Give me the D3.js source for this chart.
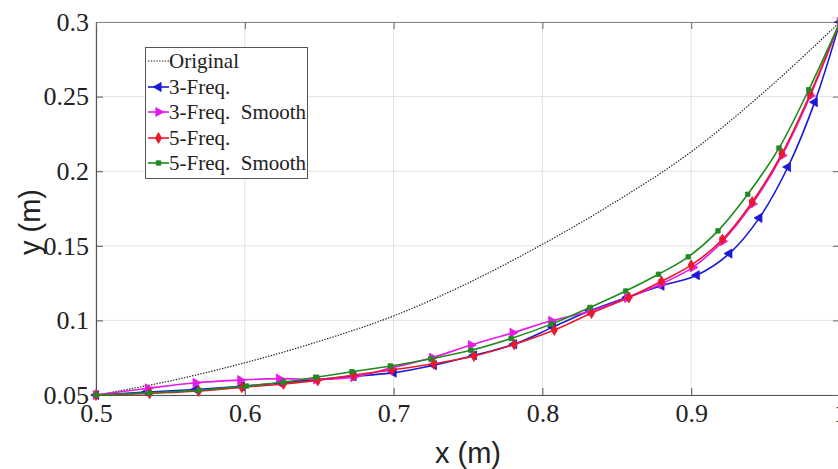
<!DOCTYPE html>
<html>
<head>
<meta charset="utf-8">
<script src="https://cdn.jsdelivr.net/npm/d3@7"></script>
<style>
  html, body { margin: 0; padding: 0; background: #fff; overflow: hidden; }
  svg { display: block; }
</style>
</head>
<body>
<svg id="chart" width="838" height="469"></svg>
<script>
// ---------- data ----------
const xTicks = [0.5, 0.6, 0.7, 0.8, 0.9, 1.0];
const xTickLabels = ["0.5", "0.6", "0.7", "0.8", "0.9", "1"];
const yTicks = [0.05, 0.1, 0.15, 0.2, 0.25, 0.3];
const yTickLabels = ["0.05", "0.1", "0.15", "0.2", "0.25", "0.3"];

const originalX = [0.5, 0.55, 0.6, 0.65, 0.7, 0.75, 0.8, 0.85, 0.9, 0.95, 1.0];
const originalY = [0.05, 0.0595, 0.0716, 0.086, 0.103, 0.125, 0.151, 0.18, 0.213, 0.254, 0.30];

const freq3X = [0.5, 0.534, 0.567, 0.598, 0.624, 0.648, 0.673, 0.700, 0.727, 0.754, 0.781, 0.807, 0.832, 0.857, 0.880, 0.9037, 0.9256, 0.9458, 0.965, 0.983, 1.0];
const freq3Y = [0.05, 0.052, 0.0537, 0.0558, 0.058, 0.0603, 0.0625, 0.065, 0.070, 0.0766, 0.084, 0.0955, 0.1064, 0.1155, 0.1232, 0.1303, 0.1448, 0.1687, 0.2028, 0.2463, 0.30];

const freq3SX = [0.5, 0.535, 0.567, 0.597, 0.623, 0.648, 0.673, 0.698, 0.726, 0.752, 0.780, 0.806, 0.832, 0.857, 0.880, 0.901, 0.921, 0.941, 0.961, 0.980, 1.0];
const freq3SY = [0.05, 0.0545, 0.0582, 0.060, 0.061, 0.0605, 0.062, 0.068, 0.075, 0.0835, 0.0917, 0.0997, 0.1062, 0.115, 0.1245, 0.1355, 0.153, 0.178, 0.2105, 0.2505, 0.30];

const freq5X = [0.5, 0.536, 0.569, 0.598, 0.626, 0.649, 0.673, 0.699, 0.727, 0.754, 0.781, 0.808, 0.833, 0.858, 0.880, 0.900, 0.921, 0.941, 0.961, 0.980, 1.0];
const freq5Y = [0.05, 0.0511, 0.0527, 0.0551, 0.0574, 0.0598, 0.0634, 0.0668, 0.0709, 0.0761, 0.0839, 0.0935, 0.1049, 0.1154, 0.1262, 0.137, 0.1542, 0.1794, 0.2118, 0.2519, 0.30];

const freq5SX = [0.5, 0.536, 0.569, 0.601, 0.626, 0.648, 0.672, 0.698, 0.725, 0.752, 0.779, 0.806, 0.832, 0.856, 0.878, 0.898, 0.918, 0.938, 0.959, 0.979, 1.0];
const freq5SY = [0.05, 0.0515, 0.0532, 0.056, 0.0587, 0.0619, 0.0656, 0.0694, 0.0743, 0.080, 0.0879, 0.0975, 0.1087, 0.1197, 0.1309, 0.1426, 0.160, 0.1845, 0.2155, 0.2546, 0.30];

const legendLabels = ["Original", "3-Freq.", "3-Freq.  Smooth", "5-Freq.", "5-Freq.  Smooth"];

// ---------- layout ----------
(function () {
const svg = d3.select("#chart");
const W = 838, H = 469;
const pL = 96, pR = 840, pT = 22, pB = 395;

const x = d3.scaleLinear().domain([0.5, 1.0]).range([pL, pR]);
const y = d3.scaleLinear().domain([0.05, 0.3]).range([pB, pT]);

svg.append("rect").attr("width", W).attr("height", H).attr("fill", "#fff");

// grid
const grid = svg.append("g");
grid.selectAll(".gx").data(xTicks).enter().append("line")
  .attr("x1", d => x(d)).attr("x2", d => x(d))
  .attr("y1", pT).attr("y2", pB)
  .attr("stroke", "#e3e3e3").attr("stroke-width", 1);
grid.selectAll(".gy").data(yTicks).enter().append("line")
  .attr("x1", pL).attr("x2", pR)
  .attr("y1", d => y(d)).attr("y2", d => y(d))
  .attr("stroke", "#e3e3e3").attr("stroke-width", 1);

// axes (ticks inward)
const tickFont = "'Liberation Serif', 'Times New Roman', serif";
const xAxis = d3.axisBottom(x).tickValues(xTicks)
  .tickFormat((d, i) => xTickLabels[i]).tickSizeInner(-7).tickSizeOuter(0).tickPadding(9);
const yAxis = d3.axisLeft(y).tickValues(yTicks)
  .tickFormat((d, i) => yTickLabels[i]).tickSizeInner(-7).tickSizeOuter(0).tickPadding(7);

const gx = svg.append("g").attr("transform", `translate(0,${pB})`).call(xAxis);
const gy = svg.append("g").attr("transform", `translate(${pL},0)`).call(yAxis);
[gx, gy].forEach(g => {
  g.select(".domain").attr("stroke", "#555").attr("stroke-width", 1.2);
  g.selectAll(".tick line").attr("stroke", "#555").attr("stroke-width", 1);
  g.selectAll(".tick text").attr("fill", "#222")
    .style("font-family", tickFont).style("font-size", "26px");
});

// top / right box with mirrored ticks
const topAxis = d3.axisTop(x).tickValues(xTicks).tickFormat("").tickSizeInner(-7).tickSizeOuter(0);
const rightAxis = d3.axisRight(y).tickValues(yTicks).tickFormat("").tickSizeInner(-7).tickSizeOuter(0);
const gt = svg.append("g").attr("transform", `translate(0,${pT})`).call(topAxis);
const gr = svg.append("g").attr("transform", `translate(${pR},0)`).call(rightAxis);
[gt, gr].forEach(g => {
  g.select(".domain").attr("stroke", "#888").attr("stroke-width", 1.2);
  g.selectAll(".tick line").attr("stroke", "#666").attr("stroke-width", 1);
});

// axis labels
const labelFont = "'Liberation Sans', Arial, Helvetica, sans-serif";
svg.append("text")
  .attr("x", (pL + pR) / 2).attr("y", 463)
  .attr("text-anchor", "middle")
  .style("font-family", labelFont).style("font-size", "29px").attr("fill", "#222")
  .text("x (m)");
svg.append("text")
  .attr("transform", `translate(40,222) rotate(-90)`)
  .attr("text-anchor", "middle")
  .style("font-family", labelFont).style("font-size", "29px").attr("fill", "#222")
  .text("y (m)");

// ---------- series ----------
const series = [
  { name: legendLabels[1], xs: freq3X, ys: freq3Y, color: "#1a1ad6", sym: d3.symbolTriangle, rot: -90, size: 36 },
  { name: legendLabels[2], xs: freq3SX, ys: freq3SY, color: "#e619e6", sym: d3.symbolTriangle, rot: 90, size: 36 },
  { name: legendLabels[3], xs: freq5X, ys: freq5Y, color: "#e8192a", sym: d3.symbolDiamond, rot: 0, size: 34 },
  { name: legendLabels[4], xs: freq5SX, ys: freq5SY, color: "#1f8a1f", sym: d3.symbolSquare, rot: 0, size: 20 }
];

const plot = svg.append("g");

const origPts = originalX.map((d, i) => [d, originalY[i]]);
plot.append("path")
  .datum(origPts)
  .attr("fill", "none").attr("stroke", "#222").attr("stroke-width", 1.2)
  .attr("stroke-dasharray", "1.4,1.4")
  .attr("d", d3.line().x(d => x(d[0])).y(d => y(d[1])).curve(d3.curveMonotoneX));

const lineGen = d3.line().x(d => x(d[0])).y(d => y(d[1])).curve(d3.curveCatmullRom.alpha(0.5));

series.forEach(s => {
  const pts = s.xs.map((d, i) => [d, s.ys[i]]);
  const g = plot.append("g");
  g.append("path").datum(pts)
    .attr("fill", "none").attr("stroke", s.color).attr("stroke-width", 1.6)
    .attr("d", lineGen);
  g.selectAll("path.m").data(pts).enter().append("path")
    .attr("class", "m")
    .attr("d", d3.symbol().type(s.sym).size(s.size))
    .attr("transform", d => `translate(${x(d[0])},${y(d[1])}) rotate(${s.rot})`)
    .attr("fill", s.color).attr("stroke", s.color).attr("stroke-width", 0.8);
});

// ---------- legend ----------
const lg = svg.append("g");
lg.append("rect")
  .attr("x", 145.5).attr("y", 47.5).attr("width", 162).attr("height", 131)
  .attr("fill", "#fff").attr("stroke", "#555").attr("stroke-width", 1);
const rowY = [61, 87, 112, 138, 163];
const legendFont = "'Liberation Serif', 'Times New Roman', serif";
legendLabels.forEach((lab, i) => {
  const yy = rowY[i];
  if (i === 0) {
    lg.append("line").attr("x1", 148).attr("x2", 169).attr("y1", yy).attr("y2", yy)
      .attr("stroke", "#222").attr("stroke-width", 1.2).attr("stroke-dasharray", "1.4,1.4");
  } else {
    const s = series[i - 1];
    lg.append("line").attr("x1", 148).attr("x2", 169).attr("y1", yy).attr("y2", yy)
      .attr("stroke", s.color).attr("stroke-width", 1.6);
    lg.append("path")
      .attr("d", d3.symbol().type(s.sym).size(s.size))
      .attr("transform", `translate(158.5,${yy}) rotate(${s.rot})`)
      .attr("fill", s.color).attr("stroke", s.color).attr("stroke-width", 0.8);
  }
  lg.append("text")
    .attr("x", 169).attr("y", yy).attr("dy", "0.34em")
    .style("font-family", legendFont).style("font-size", "21px").attr("fill", "#222")
    .style("white-space", "pre")
    .text(lab);
});
})();
</script>
</body>
</html>
